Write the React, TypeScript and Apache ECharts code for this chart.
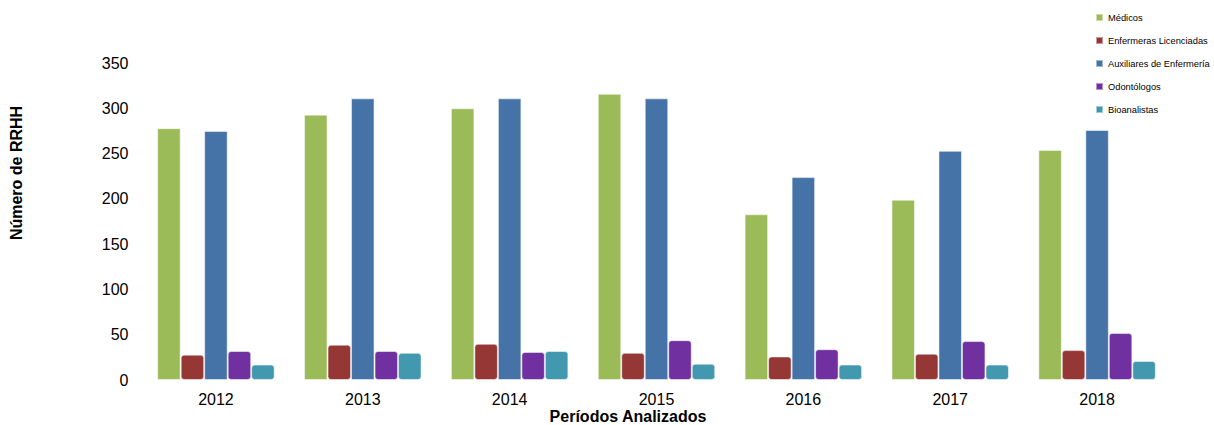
import React, { useEffect, useRef } from "react";
import * as echarts from "echarts";

const years = ["2012", "2013", "2014", "2015", "2016", "2017", "2018"];
const medicos = [278, 293, 300, 316, 183, 199, 254];
const enfermeras = [28, 39, 40, 30, 26, 29, 33];
const auxiliares = [275, 311, 311, 311, 224, 253, 276];
const odontologos = [32, 32, 31, 44, 34, 43, 52];
const bioanalistas = [17, 30, 32, 18, 17, 17, 21];

const seriesNames = [
  "Médicos",
  "Enfermeras Licenciadas",
  "Auxiliares de Enfermería",
  "Odontólogos",
  "Bioanalistas",
];
const seriesData = [medicos, enfermeras, auxiliares, odontologos, bioanalistas];
const colors = ["#9BBB59", "#953735", "#4573A7", "#7030A0", "#4298AF"];
const yTicks = { min: 0, max: 350, interval: 50 };

const FONT = "'Liberation Sans', Arial, sans-serif";

export default function App() {
  const ref = useRef<HTMLDivElement>(null);
  useEffect(() => {
    document.body.style.margin = "0";
    const chart = echarts.init(ref.current!, null, { renderer: "svg" });
    chart.setOption({
      animation: false,
      textStyle: { fontFamily: FONT },
      color: colors,
      legend: {
        orient: "vertical",
        left: 1095,
        top: 12,
        padding: 0,
        itemWidth: 7,
        itemHeight: 7,
        itemGap: 12,
        icon: "rect",
        textStyle: { fontSize: 9.3, color: "#000", fontFamily: FONT, lineHeight: 11 },
        data: seriesNames,
      },
      grid: { left: 142.5, right: 43.5, top: 63, bottom: 45, containLabel: false },
      xAxis: {
        type: "category",
        data: years,
        axisLine: { show: false },
        axisTick: { show: false },
        axisLabel: { fontSize: 16, color: "#000", margin: 11, fontFamily: FONT },
      },
      yAxis: {
        type: "value",
        min: yTicks.min,
        max: yTicks.max,
        interval: yTicks.interval,
        axisLine: { show: false },
        axisTick: { show: false },
        splitLine: { show: false },
        axisLabel: { fontSize: 16, color: "#000", margin: 14, fontFamily: FONT },
      },
      graphic: [
        {
          type: "text",
          x: 16,
          y: 173,
          rotation: Math.PI / 2,
          style: {
            text: "Número de RRHH",
            font: `bold 16px ${FONT}`,
            fill: "#000",
            align: "center",
            verticalAlign: "middle",
          },
        },
        {
          type: "text",
          x: 628,
          y: 416,
          style: {
            text: "Períodos Analizados",
            font: `bold 16px ${FONT}`,
            fill: "#000",
            align: "center",
            verticalAlign: "middle",
          },
        },
      ],
      series: seriesNames.map((name, i) => ({
        name,
        type: "bar",
        data: seriesData[i],
        barGap: "0%",
        barCategoryGap: "20%",
        itemStyle: {
          color: colors[i],
          borderRadius: i % 2 === 1 || i === 4 ? 3 : 0,
          borderColor: "rgba(255,255,255,0.5)",
          borderWidth: 1,
        },
      })),
    });
    return () => chart.dispose();
  }, []);
  return <div ref={ref} style={{ width: 1214, height: 425 }} />;
}
